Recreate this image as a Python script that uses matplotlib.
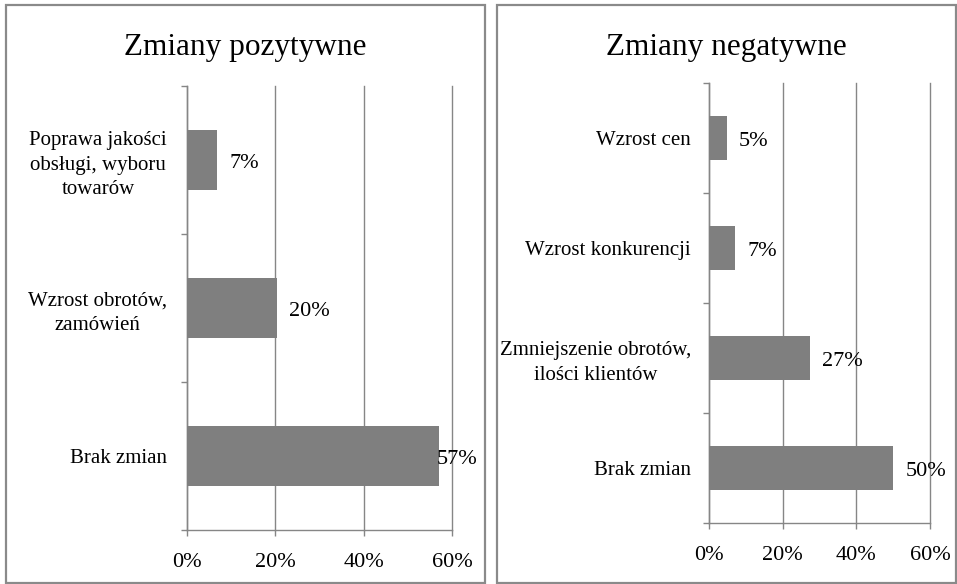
import matplotlib
matplotlib.use('Agg')
from matplotlib import pyplot as plt
from matplotlib.patches import Rectangle

plt.rcParams['font.family'] = ['Liberation Serif', 'DejaVu Serif']

# data
pos_titles = 'Zmiany pozytywne'
pos_cats = ['Poprawa jakości\nobsługi, wyboru\ntowarów', 'Wzrost obrotów,\nzamówień', 'Brak zmian']
pos_vals = [6.7, 20.3, 57.0]
pos_labels = ['7%', '20%', '57%']

neg_titles = 'Zmiany negatywne'
neg_cats = ['Wzrost cen', 'Wzrost konkurencji', 'Zmniejszenie obrotów,\nilości klientów', 'Brak zmian']
neg_vals = [4.8, 7.0, 27.3, 50.0]
neg_labels = ['5%', '7%', '27%', '50%']

xticks = [0, 20, 40, 60]

W, H = 957, 584
GRAY = '#868686'


def px(x0, y0, x1, y1):
    # pixel box (top-left origin) -> figure fraction rect
    return [x0 / W, 1 - y1 / H, (x1 - x0) / W, (y1 - y0) / H]


def panel(fig, box, axbox, title, cats, vals, labels, ypad):
    x0, y0, x1, y1 = box
    fig.patches.append(Rectangle((x0 / W, 1 - y1 / H), (x1 - x0) / W, (y1 - y0) / H,
                                 transform=fig.transFigure, fill=False,
                                 edgecolor='#8a8a8a', linewidth=1.6))
    fig.text((x0 + x1) / 2 / W, 1 - 55 / H, title, ha='center', va='baseline', fontsize=22.5)

    ax = fig.add_axes(px(*axbox))
    n = len(cats)
    y = list(range(n))
    ax.barh(y, vals, height=0.4, color='#7f7f7f', zorder=3)
    ax.set_xlim(0, 60)
    ax.set_ylim(n - 0.5, -0.5)

    ax.set_xticks(xticks)
    ax.set_xticklabels([f'{t}%' for t in xticks], fontsize=16)
    ax.set_yticks(y)
    ax.set_yticklabels(cats, fontsize=15)
    for lbl in ax.get_yticklabels():
        lbl.set_multialignment('center')
        lbl.set_linespacing(1.4)
    ax.set_yticks([i - 0.5 for i in range(n + 1)], minor=True)
    ax.tick_params(axis='y', which='major', length=0, pad=ypad)
    ax.tick_params(axis='y', which='minor', length=4.5, color=GRAY, width=1)
    ax.tick_params(axis='x', which='major', length=4.5, color=GRAY, width=1, pad=12)

    ax.grid(axis='x', color=GRAY, linewidth=1, zorder=0)
    for g in ax.xaxis.get_gridlines():
        g.set_clip_on(False)
    for s in ['top', 'right']:
        ax.spines[s].set_visible(False)
    for s in ['left', 'bottom']:
        ax.spines[s].set_color(GRAY)
        ax.spines[s].set_linewidth(1)

    for i, (v, l) in enumerate(zip(vals, labels)):
        off = 9 if v < 55 else -1.5
        ax.annotate(l, (v, i), xytext=(off, -1), textcoords='offset points',
                    ha='left', va='center_baseline', fontsize=16, zorder=4,
                    annotation_clip=False)
    return ax


fig = plt.figure(figsize=(W / 100, H / 100), dpi=100)
panel(fig, (6, 5, 485, 583), (187, 86, 452, 530), pos_titles, pos_cats, pos_vals, pos_labels, 14.5)
panel(fig, (497, 5, 956, 583), (709, 83, 930, 523), neg_titles, neg_cats, neg_vals, neg_labels, 13)

fig.savefig('out.png', dpi=100)
